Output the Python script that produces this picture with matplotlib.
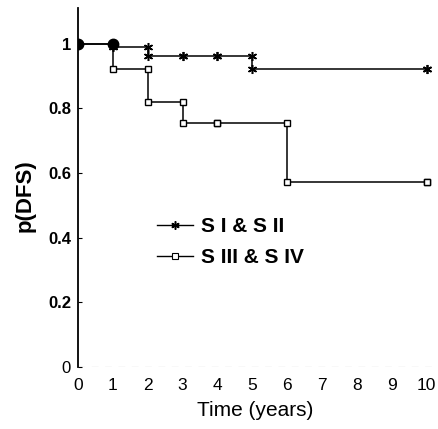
import matplotlib.pyplot as plt
import numpy as np

plt.rcParams['font.family'] = ['Liberation Sans', 'DejaVu Sans']

# step data (time in years, p(DFS))
t1 = [0, 1, 2, 3, 4, 5, 10]
p1 = [1.0, 0.99, 0.962, 0.962, 0.962, 0.922, 0.922]
t2 = [0, 1, 2, 3, 4, 6, 10]
p2 = [1.0, 0.92, 0.82, 0.755, 0.755, 0.573, 0.573]
labels = ['S I & S II', 'S III & S IV']
xticks = list(range(0, 11))
yticks = [0, 0.2, 0.4, 0.6, 0.8, 1]
ytick_labels = ['0', '0.2', '0.4', '0.6', '0.8', '1']


def mark_pts(t, p):
    # marker above and below each drop
    mx, my = [], []
    for i in range(1, len(t)):
        mx += [t[i], t[i]]
        my += [p[i - 1], p[i]]
    return mx, my


fig = plt.figure(figsize=(4.39, 4.29), dpi=100)
ax = fig.add_axes([0.1777, 0.1445, 0.806, 0.837])

ax.plot(t1, p1, drawstyle='steps-post', color='black', lw=1.1)
ax.plot(t2, p2, drawstyle='steps-post', color='black', lw=1.1)
mx1, my1 = mark_pts(t1, p1)
mx2, my2 = mark_pts(t2, p2)
ax.plot(mx2, my2, ls='none', marker='s', ms=5, mfc='white', mec='black', mew=1.0)
ax.plot(mx1, my1, ls='none', marker=(6, 2, 0), ms=6.5, color='black', mew=1.1)
ax.plot([t1[0], t1[1]], [p1[0], p1[0]], ls='none', marker='o', ms=7.5, color='black')

# legend proxies
h1, = ax.plot([], [], color='black', lw=1.0, marker=(6, 2, 0), ms=6, mew=1.1)
h2, = ax.plot([], [], color='black', lw=1.0, marker='s', ms=4, mfc='white', mec='black', mew=0.8)
leg = ax.legend([h1, h2], labels, loc='upper left', bbox_to_anchor=(0.17, 0.47),
                frameon=False, handlelength=1.75, handletextpad=0.35, labelspacing=0.6,
                prop={'weight': 'bold', 'size': 15})

ax.set_xlim(0, 10.15)
ax.set_ylim(0, 1.11)
ax.spines['top'].set_visible(False)
ax.spines['right'].set_visible(False)
ax.spines['bottom'].set_visible(False)
ax.spines['left'].set_linewidth(1.3)
ax.axhline(0, color='0.55', lw=0.8, ls=(0, (6, 6)))

ax.set_xticks(xticks)
ax.set_xticklabels([str(v) for v in xticks], fontsize=12.5)
ax.tick_params(axis='x', length=0, pad=8)
ax.set_yticks(yticks)
ax.set_yticklabels(ytick_labels, fontsize=12, fontweight='bold')
ax.tick_params(axis='y', direction='in', length=3, pad=5)
ax.get_yticklabels()[0].set_fontweight('normal')

ax.set_xlabel('Time (years)', fontsize=15, labelpad=6)
ax.set_ylabel('p(DFS)', fontsize=16, fontweight='bold')
ax.yaxis.set_label_coords(-0.12, 0.476)

fig.savefig('out.png', dpi=100)
